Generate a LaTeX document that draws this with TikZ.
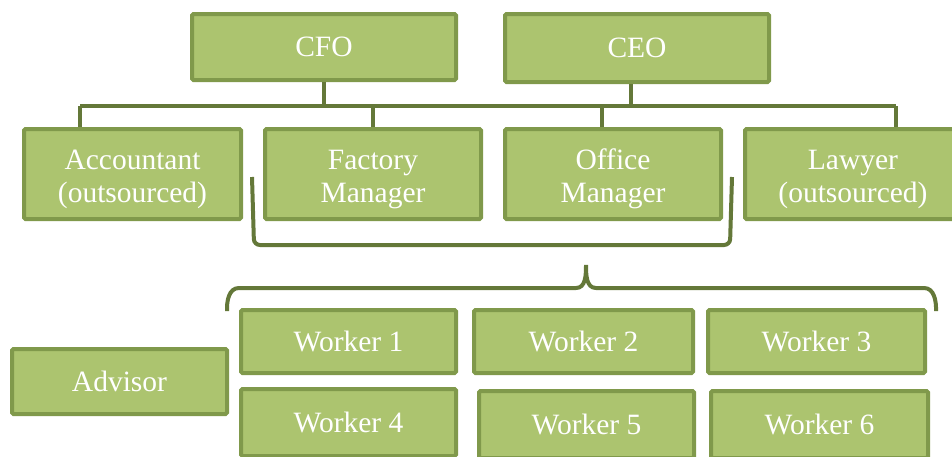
\documentclass[tikz,border=0pt]{standalone}
\usepackage{fontspec}
\setmainfont{Liberation Serif}
\usepackage{tikz}
\usetikzlibrary{positioning}

\definecolor{boxfill}{HTML}{ACC46F}
\definecolor{boxline}{HTML}{80994B}
\definecolor{linkcol}{HTML}{647839}

\begin{document}
\begin{tikzpicture}[x=1pt,y=-1pt]
\tikzset{box/.style={draw=boxline,fill=boxfill,line width=4pt,rounded corners=1.5pt,
  text=white,align=center,inner sep=0pt,font=\fontsize{29.5}{33.5}\selectfont},
  twoline/.style={box,minimum width=216pt,minimum height=90pt,text height=57pt,text depth=0pt},
  link/.style={draw=linkcol,line width=4pt}}
\useasboundingbox (0,0) rectangle (952,456);
% top row
\node (cfo) [box,minimum width=264pt,minimum height=66pt] at (324,47) {CFO};
\node (ceo) [box,minimum width=264pt,minimum height=68pt] at (637,48) {CEO};
% second row
\node (acct) [twoline,minimum width=217pt] at (132.5,174) {Accountant\\(outsourced)};
\node (fact) [twoline] at (373,174) {Factory\\Manager};
\node (offi) [twoline] at (613,174) {Office\\Manager};
\node (lawy) [twoline] at (853,174) {Lawyer\\(outsourced)};
% bar between the two rows
\coordinate (barL) at (80,106);
\coordinate (barR) at (896,106);
\draw [link] (barL) -- (barR);
\draw [link] (cfo.south) -- (cfo.south |- barL);
\draw [link] ([xshift=-6pt]ceo.south) -- ([xshift=-6pt]ceo.south |- barL);
\draw [link] (barL) -- (barL |- acct.north);
\draw [link] (fact.north) -- (fact.north |- barL);
\draw [link] ([xshift=-11pt]offi.north) -- ([xshift=-11pt]offi.north |- barL);
\draw [link] (barR) -- (barR |- lawy.north);
% bracket under the managers
\draw [link,rounded corners=6pt] (252,177) -- (254,245) -- (730,245) -- (732,177);
% curly brace over the workers
\draw [link] (227,311) to[out=92,in=180] (239,288) -- (576,288)
  to[out=0,in=-90] (586,265) to[out=-90,in=180] (596,288) -- (924,288)
  to[out=0,in=88] (936,311);
% workers
\node (w1) [box,minimum width=215pt,minimum height=63pt] at (348.5,341.5) {Worker 1};
\node (w2) [box,minimum width=219pt,minimum height=63pt] at (583.5,341.5) {Worker 2};
\node (w3) [box,minimum width=217pt,minimum height=63pt] at (816.5,341.5) {Worker 3};
\node (w4) [box,minimum width=215pt,minimum height=67pt] at (348.5,422.5) {Worker 4};
\node (w5) [box,minimum width=215pt,minimum height=67pt] at (586.5,424.5) {Worker 5};
\node (w6) [box,minimum width=217pt,minimum height=67pt] at (819.5,424.5) {Worker 6};
\node (advi) [box,minimum width=215pt,minimum height=65pt] at (119.5,381.5) {Advisor};
\end{tikzpicture}
\end{document}
